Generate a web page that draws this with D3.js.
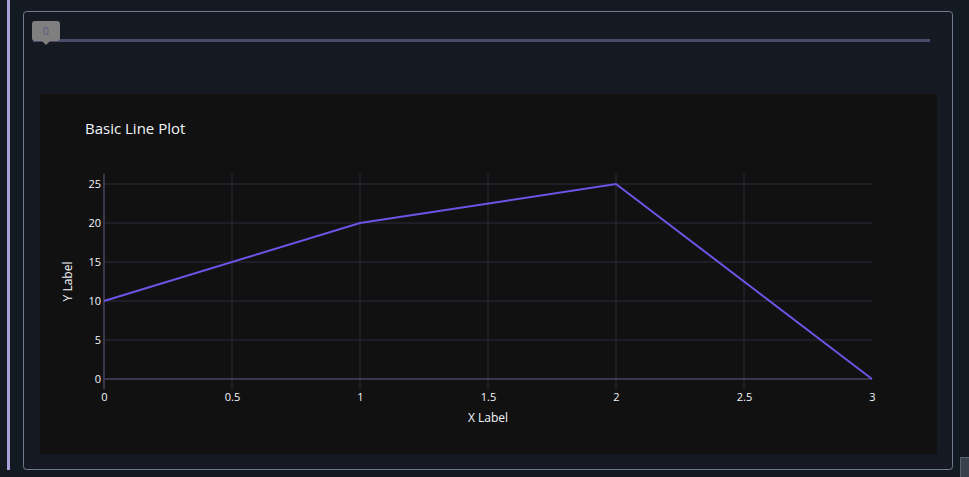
<!DOCTYPE html>
<html><head><meta charset="utf-8">
<script src="https://cdn.jsdelivr.net/npm/d3@7"></script>
<style>
html,body{margin:0;padding:0;background:#141a22;overflow:hidden;}
svg{display:block;font-family:"Open Sans",Verdana,Arial,sans-serif;}
</style></head>
<body>
<svg id="c" width="969" height="477"></svg>
<script>
const xValues = [0, 1, 2, 3];
const yValues = [10, 20, 25, 0];
const xTicks = [0, 0.5, 1, 1.5, 2, 2.5, 3];
const yTicks = [0, 5, 10, 15, 20, 25];
const titleText = "Basic Line Plot";
const xLabel = "X Label";
const yLabel = "Y Label";
const sliderLabel = "0";

const svg = d3.select("#c");
// page decorations
svg.append("rect").attr("x",0).attr("y",0).attr("width",969).attr("height",477).attr("fill","#141a22");
svg.append("rect").attr("x",7).attr("y",0).attr("width",3).attr("height",470).attr("fill","#a99fd9");
svg.append("rect").attr("x",23.5).attr("y",11.5).attr("width",929).attr("height",458).attr("rx",3)
  .attr("fill","#151a22").attr("stroke","#6f7c8e").attr("stroke-width",1);
svg.append("rect").attr("x",960.5).attr("y",457.5).attr("width",12).attr("height",22).attr("fill","#3b414c").attr("stroke","#5a6270");

// slider
svg.append("rect").attr("x",33).attr("y",39).attr("width",897).attr("height",3).attr("fill","#4e4a6c");
svg.append("rect").attr("x",32).attr("y",21).attr("width",28).attr("height",20).attr("rx",3).attr("fill","#7f7f7f");
svg.append("path").attr("d","M42,41 L50,41 L46,45 Z").attr("fill","#7f7f7f");
svg.append("text").attr("x",46).attr("y",35).attr("text-anchor","middle").attr("font-size",11).attr("fill","#5e5a86").text(sliderLabel);

// plot background
svg.append("rect").attr("x",40).attr("y",94).attr("width",897).attr("height",360).attr("fill","#111111");

const x = d3.scaleLinear().domain([0,3]).range([104,872]);
const y = d3.scaleLinear().domain([0,25]).range([379,184]);
const yTop = y.invert(174), yBot = y.invert(389);
const xMin = d3.min(xValues), xMax = d3.max(xValues);

const g = svg.append("g");
// grid (no gridline at the range edges)
g.selectAll(".vg").data(xTicks.filter(d => d > xMin && d < xMax)).join("line")
  .attr("x1",d=>x(d)).attr("x2",d=>x(d)).attr("y1",y(yTop)).attr("y2",y(yBot))
  .attr("stroke","#2a2c3c").attr("stroke-width",1);
g.selectAll(".hg").data(yTicks).join("line")
  .attr("x1",x(xMin)).attr("x2",x(xMax)).attr("y1",d=>y(d)).attr("y2",d=>y(d))
  .attr("stroke",d=>d===0?"#37384c":"#2a2c3c").attr("stroke-width",d=>d===0?2:1);
// y axis (x = 0) zero line
g.append("line").attr("x1",x(0)).attr("x2",x(0)).attr("y1",y(yTop)).attr("y2",y(yBot)).attr("stroke","#37384c").attr("stroke-width",2);

// axes via d3
const xAxis = d3.axisBottom(x).tickValues(xTicks).tickSize(0).tickPadding(0).tickFormat(d3.format("~g"));
const xa = svg.append("g").attr("transform",`translate(0,${y(yBot)+8})`).call(xAxis);
xa.select(".domain").remove();
xa.selectAll("text").attr("fill","#f2f5fa").attr("font-size",11).attr("dy","0.32em").attr("font-family","Open Sans, sans-serif");

const yAxis = d3.axisLeft(y).tickValues(yTicks).tickSize(0).tickPadding(0).tickFormat(d3.format("~g"));
const ya = svg.append("g").attr("transform",`translate(${x(0)-3},0)`).call(yAxis);
ya.select(".domain").remove();
ya.selectAll("text").attr("fill","#f2f5fa").attr("font-size",11).attr("font-family","Open Sans, sans-serif");

// line
const line = d3.line().x((d,i)=>x(xValues[i])).y(d=>y(d));
svg.append("path").datum(yValues).attr("d",line).attr("fill","none").attr("stroke","#6a55e6").attr("stroke-width",2);

// labels
svg.append("text").attr("x",85).attr("y",134).attr("font-size",15).attr("fill","#f2f5fa").text(titleText);
svg.append("text").attr("x",(x(0)+x(3))/2).attr("y",422).attr("text-anchor","middle").attr("font-size",12).attr("fill","#f2f5fa").text(xLabel);
svg.append("text").attr("transform",`translate(72,${(y(yTop)+y(yBot))/2}) rotate(-90)`).attr("text-anchor","middle").attr("font-size",12).attr("fill","#f2f5fa").text(yLabel);
</script>
</body></html>
